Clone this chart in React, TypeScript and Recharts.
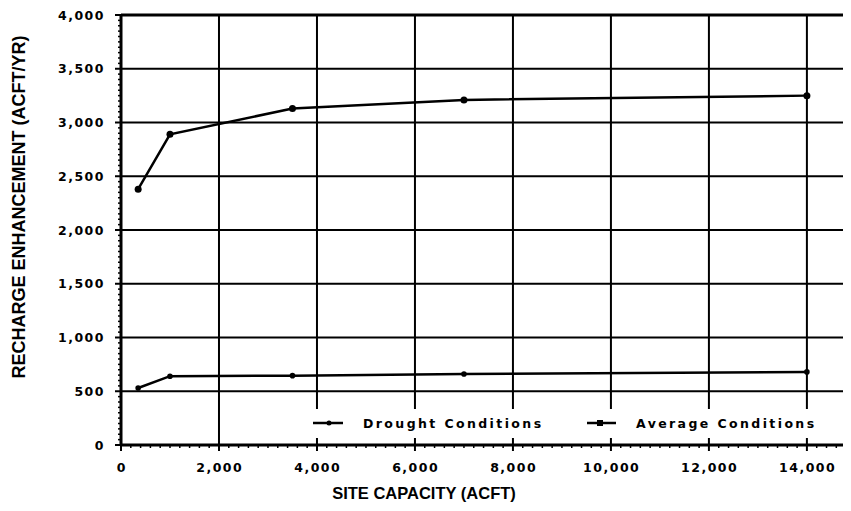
import { LineChart, Line, XAxis, YAxis, ReferenceLine, Label } from 'recharts'

// site capacity (acft) vs recharge enhancement (acft/yr)
const capacity = [350, 1000, 3500, 7000, 14000]
const drought = [530, 640, 645, 660, 680]
const average = [2380, 2890, 3130, 3210, 3250]

const yMajor = [0, 500, 1000, 1500, 2000, 2500, 3000, 3500, 4000]
const xMajor = [0, 2000, 4000, 6000, 8000, 10000, 12000, 14000]
const yMinorStep = 50
const xMinorStep = 200

const yTicks = Array.from({ length: 4000 / yMinorStep + 1 }, (_, i) => i * yMinorStep)
const xTicks = Array.from({ length: 14800 / xMinorStep + 1 }, (_, i) => i * xMinorStep)

const data = capacity.map((c, i) => ({ capacity: c, drought: drought[i], average: average[i] }))

const tickFont = { fontFamily: 'DejaVu Sans', fontWeight: 700, fontSize: 12.5, letterSpacing: 1.5 }
const titleFont = { fontFamily: 'Liberation Sans, Arial', fontWeight: 700 }
const legendFont = { fontFamily: 'DejaVu Sans', fontWeight: 700, fontSize: 12.5, letterSpacing: 2.4 }
const fmt = (v: number) => v.toLocaleString('en-US')

const YTick = ({ x, y, payload }: any) => {
  const major = yMajor.includes(payload.value)
  return (
    <g>
      <line x1={x - (major ? 6 : 3)} x2={x} y1={y} y2={y} stroke="#000" strokeWidth={major ? 2 : 1.5} />
      {major && (
        <text x={x - 16} y={y} dy={4.5} textAnchor="end" fill="#000" style={tickFont}>{fmt(payload.value)}</text>
      )}
    </g>
  )
}

const XTick = ({ x, y, payload }: any) => {
  const major = xMajor.includes(payload.value)
  return (
    <g>
      <line x1={x} x2={x} y1={y} y2={y + (major ? 6 : 3)} stroke="#000" strokeWidth={major ? 2 : 1.5} />
      {major && (
        <text x={x + 0.75} y={y + 27} textAnchor="middle" fill="#000" style={tickFont}>{fmt(payload.value)}</text>
      )}
    </g>
  )
}

const LegendBox = () => (
  <svg width={551} height={29} style={{ position: 'absolute', left: 300, top: 409, background: '#fff' }}>
    <line x1={13} x2={43} y1={14} y2={14} stroke="#000" strokeWidth={2.5} />
    <circle cx={29} cy={14} r={2.5} fill="#000" />
    <text x={63} y={18.5} fill="#000" style={legendFont}>Drought Conditions</text>
    <line x1={287} x2={316} y1={14} y2={14} stroke="#000" strokeWidth={2.5} />
    <rect x={297} y={11} width={6} height={6} fill="#000" />
    <text x={336} y={18.5} fill="#000" style={legendFont}>Average Conditions</text>
  </svg>
)

export default function App() {
  return (
    <div style={{ margin: -8, width: 851, height: 511, background: '#fff', position: 'relative' }}>
      <LineChart width={851} height={511} data={data} margin={{ top: 15, right: 0, bottom: 0, left: 0 }}>
        <XAxis
          dataKey="capacity"
          type="number"
          domain={[0, 14900]}
          ticks={xTicks}
          interval={0}
          height={66}
          tickSize={0}
          tickMargin={0}
          tick={<XTick />}
          axisLine={{ stroke: '#000', strokeWidth: 3 }}
        >
          <Label
            content={({ viewBox }: any) => (
              <text x={viewBox.x + 303} y={viewBox.y + 54} textAnchor="middle" fill="#000" style={{ ...titleFont, fontSize: 16.5 }}>
                SITE CAPACITY (ACFT)
              </text>
            )}
          />
        </XAxis>
        <YAxis
          type="number"
          domain={[0, 4000]}
          ticks={yTicks}
          interval={0}
          width={121}
          tickSize={0}
          tickMargin={0}
          tick={<YTick />}
          axisLine={{ stroke: '#000', strokeWidth: 3 }}
        >
          <Label
            content={({ viewBox }: any) => {
              const cx = viewBox.x + 19
              const cy = viewBox.y + 192
              return (
                <text x={cx} y={cy} textAnchor="middle" dominantBaseline="central" transform={`rotate(-90 ${cx} ${cy})`} fill="#000" style={{ ...titleFont, fontSize: 18 }}>
                  RECHARGE ENHANCEMENT (ACFT/YR)
                </text>
              )
            }}
          />
        </YAxis>
        {yMajor.slice(1).map((v) => (
          <ReferenceLine key={`y${v}`} y={v} stroke="#000" strokeWidth={v === 4000 ? 3 : 2} />
        ))}
        {xMajor.slice(1).map((v) => (
          <ReferenceLine key={`x${v}`} x={v} stroke="#000" strokeWidth={2} />
        ))}
        <Line
          dataKey="average"
          type="linear"
          stroke="#000"
          strokeWidth={2.5}
          dot={{ r: 3.5, fill: '#000', stroke: '#000', strokeWidth: 0 }}
          isAnimationActive={false}
        />
        <Line
          dataKey="drought"
          type="linear"
          stroke="#000"
          strokeWidth={2.5}
          dot={{ r: 2.8, fill: '#000', stroke: '#000', strokeWidth: 0 }}
          isAnimationActive={false}
        />
      </LineChart>
      <LegendBox />
    </div>
  )
}
